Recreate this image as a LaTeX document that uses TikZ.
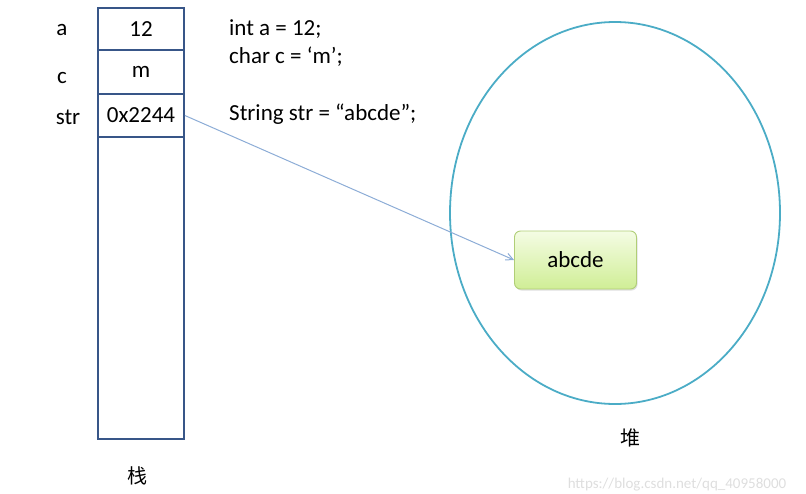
\documentclass[tikz,border=0pt]{standalone}
\usepackage{fontspec}
\setmainfont{Carlito}
\newfontfamily\cjk{Noto Sans CJK SC}
\usetikzlibrary{arrows.meta, positioning, shadows}
\definecolor{stackcolor}{RGB}{56,86,136}
\definecolor{heapcolor}{RGB}{75,172,198}
\definecolor{linkcolor}{RGB}{140,172,214}
\definecolor{objtop}{RGB}{244,252,228}
\definecolor{objbottom}{RGB}{208,238,150}
\definecolor{objborder}{RGB}{176,206,118}

\begin{document}
\begin{tikzpicture}[
    x=1pt, y=-1pt,
    cell/.style={draw=stackcolor, line width=1.8pt, minimum width=86pt, font=\fontsize{23}{26}\selectfont, inner sep=0pt},
    varname/.style={font=\fontsize{23}{26}\selectfont},
    code/.style={anchor=west, inner sep=0pt, font=\fontsize{23}{26}\selectfont},
    arrow/.style={-{Straight Barb[length=2.5mm, width=2.5mm]}, draw=linkcolor, line width=1pt}
]
    \useasboundingbox (0,0) rectangle (806,493);
    % stack
    \node[cell, minimum height=302pt] (stack) at (141,288) {};
    \node[cell, minimum height=42pt] (c1) at (141,29) {12};
    \node[cell, minimum height=44pt] (c2) at (141,72) {m};
    \node[cell, minimum height=43pt] (c3) at (141,115.5) {0x2244};
    \node[varname] (va) at (62,30) {a};
    \node[varname] (vc) at (62,78) {c};
    \node[varname] (vs) at (68,117) {str};
    \node[font=\cjk\fontsize{20}{22}\selectfont] (lstack) at (137,476) {栈};

    % code
    \node[code] (l1) at (229,29.5) {int a = 12;};
    \node[code] (l2) at (229,56.5) {char c = ‘m’;};
    \node[code] (l3) at (229,114.5) {String str = “abcde”;};

    % heap
    \draw[heapcolor, line width=1.8pt] (615,213) ellipse [x radius=165, y radius=191];
    \node[font=\cjk\fontsize{20}{22}\selectfont] (lheap) at (630,438) {堆};
    \node[draw=objborder, line width=0.9pt, rounded corners=6pt, top color=objtop, bottom color=objbottom,
          drop shadow={shadow xshift=1pt, shadow yshift=-1.5pt, opacity=0.25},
          minimum width=122pt, minimum height=58pt, font=\fontsize{23}{26}\selectfont] (obj) at (575.5,260) {abcde};

    \draw[arrow] (c3.east) -- (obj.west);

    \node[text=black!13, font=\fontsize{15}{17}\selectfont] (mark) at (677,485) {https://blog.csdn.net/qq\_40958000};
\end{tikzpicture}
\end{document}
